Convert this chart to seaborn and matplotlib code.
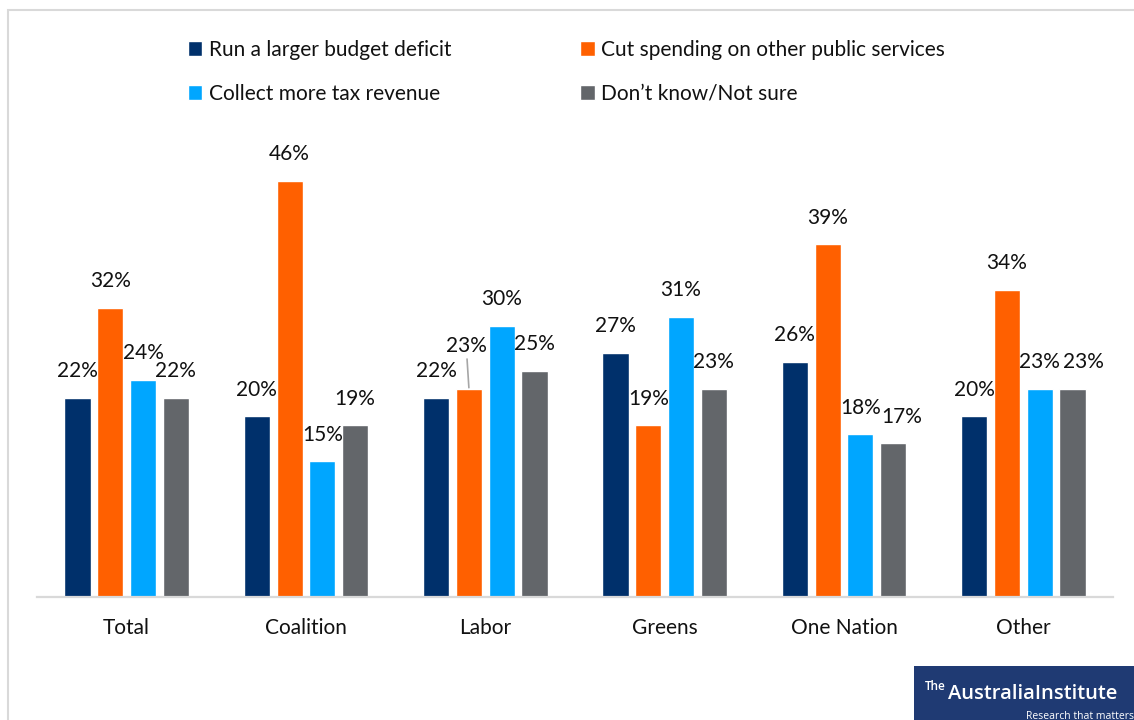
import numpy as np
import pandas as pd
import seaborn as sns
import matplotlib.pyplot as plt
from matplotlib.patches import Rectangle

# Survey results (% of respondents) by voting intention
groups = ["Total", "Coalition", "Labor", "Greens", "One Nation", "Other"]
series = [
    "Run a larger budget deficit",
    "Cut spending on other public services",
    "Collect more tax revenue",
    "Don\u2019t know/Not sure",
]
deficit = [22, 20, 22, 27, 26, 20]
cut_spending = [32, 46, 23, 19, 39, 34]
more_tax = [24, 15, 30, 31, 18, 23]
dont_know = [22, 19, 25, 23, 17, 23]

colors = ["#00306B", "#FF6000", "#00A6FF", "#63666A"]

df = pd.DataFrame({
    "group": groups * 4,
    "series": np.repeat(series, len(groups)),
    "value": deficit + cut_spending + more_tax + dont_know,
})

sns.set_theme(style="white")
plt.rcParams["font.family"] = ["Lato", "DejaVu Sans"]
FS = 15

fig = plt.figure(figsize=(11.34, 7.2), dpi=100)
W, H = 1134, 720
ax = fig.add_axes([37 / W, (H - 597) / H, 1076 / W, 452 / H])

sns.barplot(
    data=df, x="group", y="value", hue="series", order=groups,
    hue_order=series, palette=colors, width=0.73, gap=0.2,
    saturation=1, ax=ax, legend=True, errorbar=None,
)

ax.set_ylim(0, 50)
ax.set_xlim(-0.5, len(groups) - 0.5)
ax.set_xlabel("")
ax.set_ylabel("")
ax.set_yticks([])
for side in ["left", "right", "top"]:
    ax.spines[side].set_visible(False)
ax.spines["bottom"].set_color("#D9D9D9")
ax.spines["bottom"].set_linewidth(1.6)
ax.tick_params(axis="x", length=0, pad=15, labelsize=FS, labelcolor="#111111")

# horizontal nudges (points) for labels that would otherwise collide
nudge = {("One Nation", 3): 6, ("Other", 3): 8}

# value labels above each bar
for ci, cont in enumerate(ax.containers):
    for gi, bar in enumerate(cont):
        h = bar.get_height()
        xc = bar.get_x() + bar.get_width() / 2
        if groups[gi] == "Labor" and ci == 1:
            # raised label with a leader line
            ax.annotate(f"{h:.0f}%", xy=(xc, h), xytext=(-2, 24),
                        textcoords="offset points", ha="center", va="bottom",
                        fontsize=FS, color="#111111",
                        arrowprops=dict(arrowstyle="-", color="#A6A6A6",
                                        lw=1.2, shrinkA=0, shrinkB=1))
        else:
            dx = nudge.get((groups[gi], ci), 0)
            ax.annotate(f"{h:.0f}%", xy=(xc, h), xytext=(dx, 12),
                        textcoords="offset points", ha="center", va="bottom",
                        fontsize=FS, color="#111111")

# legend in two rows across the top
handles, labels = ax.get_legend_handles_labels()
ax.get_legend().remove()
order = [0, 2, 1, 3]
fig.legend([handles[i] for i in order], [labels[i] for i in order],
           loc="upper left", bbox_to_anchor=(169 / W, 1 - 21 / H), ncol=2,
           frameon=False, fontsize=FS, handlelength=0.7, handleheight=0.7,
           handletextpad=0.3, columnspacing=6.2, labelspacing=1.15,
           labelcolor="#111111")

# outer frame
fig.add_artist(Rectangle((8 / W, -0.05), 1.1, 1 - 10 / H + 0.05,
                         transform=fig.transFigure, fill=False,
                         edgecolor="#D9D9D9", lw=1.5))

# institute badge
fig.add_artist(Rectangle((914 / W, 0), (W - 914) / W, 54 / H,
                         transform=fig.transFigure, facecolor="#1F3A73",
                         edgecolor="none"))
fig.text(925 / W, 1 - 690 / H, "The", color="white", fontsize=8.5,
         va="baseline", ha="left", fontweight="semibold",
         family=["Open Sans", "DejaVu Sans"])
fig.text(948 / W, 1 - 699 / H, "AustraliaInstitute", color="white",
         fontsize=14.5, va="baseline", ha="left", fontweight="semibold",
         family=["Open Sans", "DejaVu Sans"])
fig.text(1134 / W, 1 - 719 / H, "Research that matters", color="white",
         fontsize=7.5, va="baseline", ha="right",
         family=["Open Sans", "DejaVu Sans"])

fig.savefig("out.png", dpi=100, facecolor="white")
